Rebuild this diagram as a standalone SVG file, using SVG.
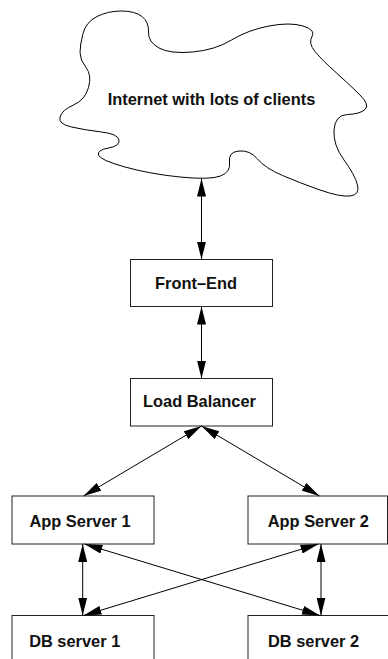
<svg xmlns="http://www.w3.org/2000/svg" width="388" height="659" viewBox="0 0 388 659">
<style>
.box{fill:#fff;stroke:#222;stroke-width:1}
.lbl{font-family:"Liberation Sans",Arial,Helvetica,sans-serif;font-weight:bold;font-size:16.4px;fill:#111;text-anchor:middle}
.cn{stroke:#000;stroke-width:1;fill:none;marker-start:url(#ah);marker-end:url(#ah)}
</style>
<defs>
<marker id="ah" viewBox="0 0 18 9" refX="18" refY="4.5" markerWidth="18" markerHeight="9" markerUnits="userSpaceOnUse" orient="auto-start-reverse">
<path d="M0,0 L18,4.5 L0,9 z" fill="#000"/>
</marker>
</defs>
<rect width="388" height="659" fill="#fff"/>
<g id="internet">
<path fill="#fff" stroke="#000" stroke-width="1" d="M80,52.5 Q80,45 83,33.5 Q86,22 97,16.5 Q108,11 121.5,11 Q135,11 142,16.5 Q149,22 148.5,32 Q148,42 159,48 Q170,54 192.5,52 Q215,50 231.5,40 Q248,30 269,26 Q290,22 303,26 Q316,30 312,36.5 Q308,43 315,51.5 Q322,60 336,72.5 Q350,85 360,95 Q370,105 365,109.5 Q360,114 347.5,114.5 Q335,115 334,130 Q333,145 344,160 Q355,175 357.5,185 Q360,195 350,196 Q340,197 320,190 Q300,183 282.5,175.5 Q265,168 257.5,159 Q250,150 239,151 Q228,152 229.5,162 Q231,172 220.5,176 Q210,180 180,177 Q150,174 125,167 Q100,160 98.5,155 Q97,150 108.5,148 Q120,146 119,140 Q118,134 101.5,132 Q85,130 71.5,127 Q58,124 60,117 Q62,110 73.5,105 Q85,100 88.5,87.5 Q92,75 86,67.5 Q80,60 80,52.5 Z"/>
<text class="lbl" x="211.5" y="105">Internet with lots of clients</text>
</g>
<g id="frontend">
<rect class="box" x="130.5" y="259.5" width="142" height="47"/>
<text class="lbl" x="196" y="289">Front–End</text>
</g>
<g id="loadbalancer">
<rect class="box" x="130.5" y="378.5" width="142" height="47.5"/>
<text class="lbl" x="199.5" y="407">Load Balancer</text>
</g>
<g id="app1">
<rect class="box" x="12" y="496" width="142" height="48"/>
<text class="lbl" x="80" y="527">App Server 1</text>
</g>
<g id="app2">
<rect class="box" x="248" y="496" width="139.5" height="48"/>
<text class="lbl" x="318.3" y="527">App Server 2</text>
</g>
<g id="db1">
<rect class="box" x="12" y="615.5" width="142" height="60"/>
<text class="lbl" x="74.7" y="646.7">DB server 1</text>
</g>
<g id="db2">
<rect class="box" x="248" y="615.5" width="142" height="60"/>
<text class="lbl" x="313.5" y="646.7">DB server 2</text>
</g>
<g id="connectors">
<line class="cn" x1="201.5" y1="178.5" x2="201.5" y2="259.5"/>
<line class="cn" x1="201.5" y1="306.5" x2="201.5" y2="378.5"/>
<line class="cn" x1="201.5" y1="426" x2="83.5" y2="496"/>
<line class="cn" x1="201.5" y1="426" x2="319.5" y2="496"/>
<line class="cn" x1="82.7" y1="544" x2="82.7" y2="615.5"/>
<line class="cn" x1="321" y1="544" x2="321" y2="615.5"/>
<line class="cn" x1="84.5" y1="544" x2="320" y2="615.5"/>
<line class="cn" x1="318.5" y1="544" x2="83.5" y2="615.5"/>
</g>
</svg>
